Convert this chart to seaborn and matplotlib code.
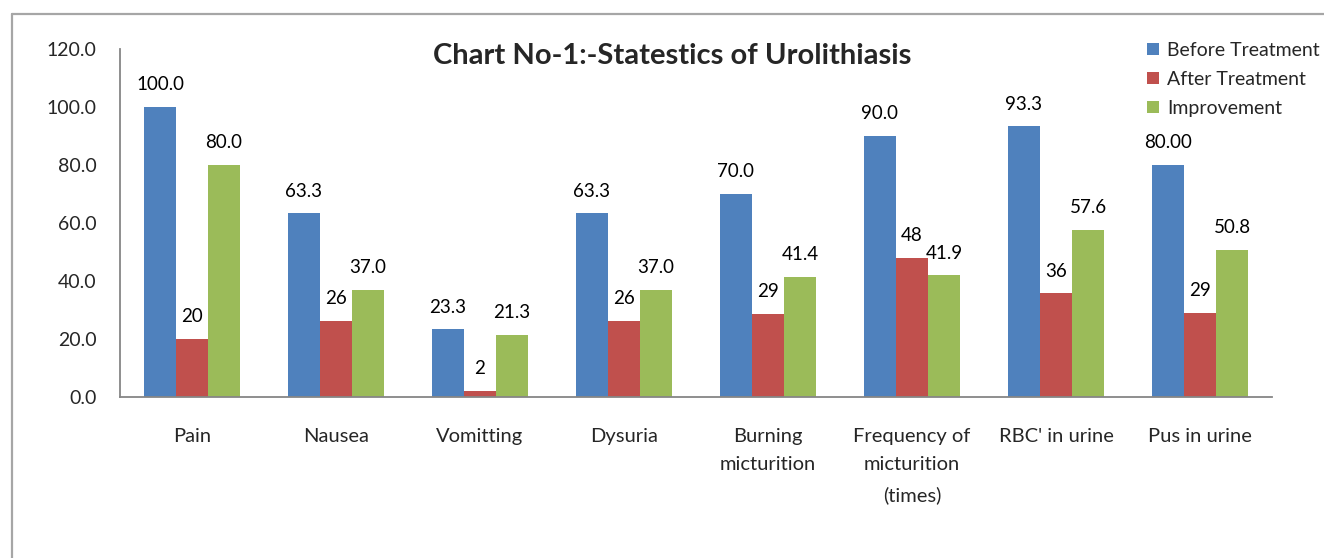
import matplotlib
matplotlib.use("Agg")
import matplotlib.pyplot as plt
from matplotlib.lines import Line2D
from matplotlib.patches import Patch
import seaborn as sns
import pandas as pd

categories = ["Pain", "Nausea", "Vomitting", "Dysuria", "Burning\nmicturition",
              "Frequency of\nmicturition\n(times)", "RBC' in urine", "Pus in urine"]
series = ["Before Treatment", "After Treatment", "Improvement"]
before = [100.0, 63.3, 23.3, 63.3, 70.0, 90.0, 93.3, 80.0]
after = [20.0, 26.3, 2.0, 26.3, 28.6, 48.1, 35.7, 29.0]
improvement = [80.0, 37.0, 21.3, 37.0, 41.4, 41.9, 57.6, 50.8]
before_labels = ["100.0", "63.3", "23.3", "63.3", "70.0", "90.0", "93.3", "80.00"]
after_labels = ["20", "26", "2", "26", "29", "48", "36", "29"]
improvement_labels = ["80.0", "37.0", "21.3", "37.0", "41.4", "41.9", "57.6", "50.8"]
yticks = [0, 20, 40, 60, 80, 100, 120]

colors = ["#4F81BD", "#C0504D", "#9BBB59"]

sns.set_style("white")
plt.rcParams["font.family"] = ["Lato", "DejaVu Sans"]

df = pd.DataFrame({
    "category": categories * 3,
    "series": [series[0]] * 8 + [series[1]] * 8 + [series[2]] * 8,
    "value": before + after + improvement,
})

fig = plt.figure(figsize=(13.24, 5.58), dpi=100)
ax = fig.add_axes([120 / 1324, 1 - 397 / 558, (1272 - 120) / 1324, (397 - 49) / 558])

sns.barplot(data=df, x="category", y="value", hue="series", order=categories,
            hue_order=series, palette=colors, width=2 / 3, linewidth=0,
            saturation=1, ax=ax, legend=False)

for cont, labs in zip(ax.containers, [before_labels, after_labels, improvement_labels]):
    ax.bar_label(cont, labels=labs, padding=10, fontsize=13.5, color="#000000")

ax.set_ylim(0, 120)
ax.set_xlim(-0.5, len(categories) - 0.5)
ax.set_yticks(yticks)
ax.set_yticklabels([f"{v:.1f}" for v in yticks], fontsize=14)
ax.set_xlabel("")
ax.set_ylabel("")
ax.set_xticks(range(len(categories)))
ax.set_xticklabels(categories, fontsize=14.5, linespacing=1.85)
ax.set_xticks([i - 0.5 for i in range(len(categories) + 1)], minor=True)
ax.tick_params(axis="x", which="major", length=0, pad=22)
ax.tick_params(axis="x", which="minor", length=7, width=1.3, color="#868686", direction="out")
ax.tick_params(axis="y", which="major", length=6, width=1.3, color="#868686", direction="out", pad=11)
for s in ["top", "right"]:
    ax.spines[s].set_visible(False)
for s in ["left", "bottom"]:
    ax.spines[s].set_color("#868686")
    ax.spines[s].set_linewidth(1.3)
ax.grid(False)

fig.text(672 / 1324, 1 - 56 / 558, "Chart No-1:-Statestics of Urolithiasis",
         ha="center", va="center", fontsize=21, fontweight="bold")

handles = [Patch(facecolor=c, edgecolor="none") for c in colors]
fig.legend(handles, series, loc="upper left", bbox_to_anchor=(1147 / 1324, 1 - 42 / 558),
           frameon=False, fontsize=14, handlelength=0.6, handleheight=0.6,
           handletextpad=0.45, labelspacing=0.62, borderaxespad=0, borderpad=0)

fig.add_artist(Line2D([12 / 1324, 12 / 1324], [0, 1 - 14 / 558], color="#A6A6A6", lw=1.6))
fig.add_artist(Line2D([12 / 1324, 1], [1 - 14 / 558, 1 - 14 / 558], color="#A6A6A6", lw=1.6))

fig.savefig("out.png", dpi=100, facecolor="white")
